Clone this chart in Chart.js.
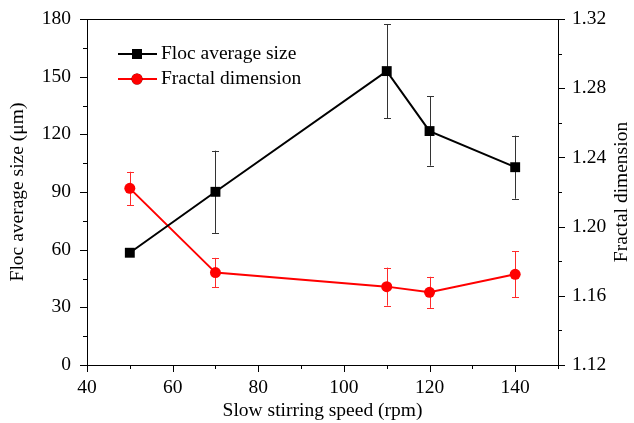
<!DOCTYPE html>
<html>
<head>
<meta charset="utf-8">
<script src="https://cdn.jsdelivr.net/npm/chart.js@4.4.0/dist/chart.umd.min.js"></script>
<style>
  html, body { margin: 0; padding: 0; background: #fff; }
  #wrap { width: 634px; height: 423px; }
</style>
</head>
<body>
<div id="wrap"><canvas id="c" width="634" height="423"></canvas></div>
<script>
// === data ===
const speeds = [50, 70, 110, 120, 140];
const flocSize = [58.4, 90.1, 152.9, 121.7, 102.9];
const flocErr = [0, 21.4, 24.5, 18.0, 16.4];
const fractalDim = [1.2221, 1.1734, 1.1653, 1.1620, 1.1724];
const fractalErr = [0.0096, 0.0085, 0.0110, 0.0090, 0.0133];

const xTicks = [40, 60, 80, 100, 120, 140];
const xMinorTicks = [50, 70, 90, 110, 130, 150];
const yTicks = [0, 30, 60, 90, 120, 150, 180];
const yMinorTicks = [15, 45, 75, 105, 135, 165];
const y2Ticks = [1.12, 1.16, 1.20, 1.24, 1.28, 1.32];
const y2MinorTicks = [1.14, 1.18, 1.22, 1.26, 1.30];

const FONT = '"Liberation Serif", "Times New Roman", serif';
const FSIZE = 19.5;

// error bars + frame + ticks + titles + legend
const decoPlugin = {
  id: 'deco',
  beforeDatasetsDraw(chart) {
    const ctx = chart.ctx;
    const x = chart.scales.x;
    const sets = [
      { vals: flocSize, err: flocErr, scale: chart.scales.y, color: '#333' },
      { vals: fractalDim, err: fractalErr, scale: chart.scales.y2, color: '#ff2a2a' }
    ];
    ctx.save();
    ctx.lineWidth = 1;
    sets.forEach(s => {
      ctx.strokeStyle = s.color;
      speeds.forEach((sp, i) => {
        if (!s.err[i]) return;
        const px = Math.round(x.getPixelForValue(sp)) + 0.5;
        const top = s.scale.getPixelForValue(s.vals[i] + s.err[i]);
        const bot = s.scale.getPixelForValue(s.vals[i] - s.err[i]);
        ctx.beginPath();
        ctx.moveTo(px, top); ctx.lineTo(px, bot);
        ctx.moveTo(px - 3.5, Math.round(top) + 0.5); ctx.lineTo(px + 3.5, Math.round(top) + 0.5);
        ctx.moveTo(px - 3.5, Math.round(bot) + 0.5); ctx.lineTo(px + 3.5, Math.round(bot) + 0.5);
        ctx.stroke();
      });
    });
    ctx.restore();
  },
  afterDraw(chart) {
    const ctx = chart.ctx;
    const a = chart.chartArea;
    const x = chart.scales.x, y = chart.scales.y, y2 = chart.scales.y2;
    ctx.save();
    ctx.strokeStyle = '#000';
    ctx.lineWidth = 1;
    ctx.strokeRect(Math.round(a.left) + 0.5, Math.round(a.top) + 0.5,
      Math.round(a.right - a.left), Math.round(a.bottom - a.top));

    const tick = (list, len, fn) => list.forEach(v => fn(v, len));
    ctx.beginPath();
    const xt = (v, len) => { const p = Math.round(x.getPixelForValue(v)) + 0.5; ctx.moveTo(p, a.bottom); ctx.lineTo(p, a.bottom + len); };
    const yt = (v, len) => { const p = Math.round(y.getPixelForValue(v)) + 0.5; ctx.moveTo(a.left, p); ctx.lineTo(a.left - len, p); };
    const y2t = (v, len) => { const p = Math.round(y2.getPixelForValue(v)) + 0.5; ctx.moveTo(a.right, p); ctx.lineTo(a.right + len, p); };
    tick(xTicks, 7, xt); tick(xMinorTicks, 4, xt);
    tick(yTicks, 7, yt); tick(yMinorTicks, 4, yt);
    tick(y2Ticks, 7, y2t); tick(y2MinorTicks, 4, y2t);
    ctx.stroke();

    // axis titles
    ctx.fillStyle = '#000';
    ctx.font = FSIZE + 'px ' + FONT;
    ctx.textAlign = 'center';
    ctx.textBaseline = 'middle';
    ctx.fillText('Slow stirring speed (rpm)', (a.left + a.right) / 2, 411);
    ctx.save();
    ctx.translate(18, (a.top + a.bottom) / 2);
    ctx.rotate(-Math.PI / 2);
    ctx.fillText('Floc average size (\u03bcm)', 0, 0);
    ctx.restore();
    ctx.save();
    ctx.translate(622, (a.top + a.bottom) / 2);
    ctx.rotate(-Math.PI / 2);
    ctx.fillText('Fractal dimension', 0, 0);
    ctx.restore();

    // legend
    const items = [
      { label: 'Floc average size', ds: chart.data.datasets[0], y: 54 },
      { label: 'Fractal dimension', ds: chart.data.datasets[1], y: 79 }
    ];
    items.forEach(it => {
      ctx.strokeStyle = it.ds.borderColor;
      ctx.lineWidth = 2;
      ctx.beginPath();
      ctx.moveTo(118, it.y); ctx.lineTo(157, it.y);
      ctx.stroke();
      Chart.helpers.drawPoint(ctx, {
        pointStyle: it.ds.pointStyle, radius: it.ds.pointRadius, borderWidth: 0, rotation: 0
      }, 137, it.y);
      ctx.fillStyle = it.ds.pointBackgroundColor;
      ctx.fill();
      ctx.fillStyle = '#000';
      ctx.textAlign = 'left';
      ctx.fillText(it.label, 161, it.y);
    });
    ctx.restore();
  }
};

const noPad = s => { s.paddingTop = 0; s.paddingBottom = 0; s.paddingLeft = 0; s.paddingRight = 0; };

new Chart(document.getElementById('c'), {
  type: 'line',
  data: {
    datasets: [
      {
        label: 'Floc average size',
        data: speeds.map((s, i) => ({ x: s, y: flocSize[i] })),
        yAxisID: 'y',
        borderColor: '#000', borderWidth: 2,
        pointStyle: 'rect', pointRadius: 7,
        pointBackgroundColor: '#000', pointBorderColor: '#000', pointBorderWidth: 0
      },
      {
        label: 'Fractal dimension',
        data: speeds.map((s, i) => ({ x: s, y: fractalDim[i] })),
        yAxisID: 'y2',
        borderColor: '#ff0000', borderWidth: 2,
        pointStyle: 'circle', pointRadius: 5.5,
        pointBackgroundColor: '#ff0000', pointBorderColor: '#ff0000', pointBorderWidth: 0
      }
    ]
  },
  options: {
    responsive: false,
    animation: false,
    layout: { padding: { top: 19, left: 0, right: 0, bottom: 0 } },
    plugins: { legend: { display: false }, tooltip: { enabled: false } },
    scales: {
      x: {
        type: 'linear', min: 40, max: 150,
        afterBuildTicks: s => { s.ticks = xTicks.map(v => ({ value: v })); },
        afterFit: s => { s.height = 58; noPad(s); },
        grid: { display: false, drawTicks: false }, border: { display: false },
        ticks: { color: '#000', font: { family: FONT, size: FSIZE }, padding: 11, maxRotation: 0 }
      },
      y: {
        position: 'left', min: 0, max: 180,
        afterBuildTicks: s => { s.ticks = yTicks.map(v => ({ value: v })); },
        afterFit: s => { s.width = 87; noPad(s); },
        grid: { display: false, drawTicks: false }, border: { display: false },
        ticks: { color: '#000', font: { family: FONT, size: FSIZE }, padding: 16 }
      },
      y2: {
        position: 'right', min: 1.12, max: 1.32,
        afterBuildTicks: s => { s.ticks = y2Ticks.map(v => ({ value: v })); },
        afterFit: s => { s.width = 76; noPad(s); },
        grid: { display: false, drawTicks: false }, border: { display: false },
        ticks: { color: '#000', font: { family: FONT, size: FSIZE }, padding: 14,
          callback: v => v.toFixed(2) }
      }
    }
  },
  plugins: [decoPlugin]
});
</script>
</body>
</html>
